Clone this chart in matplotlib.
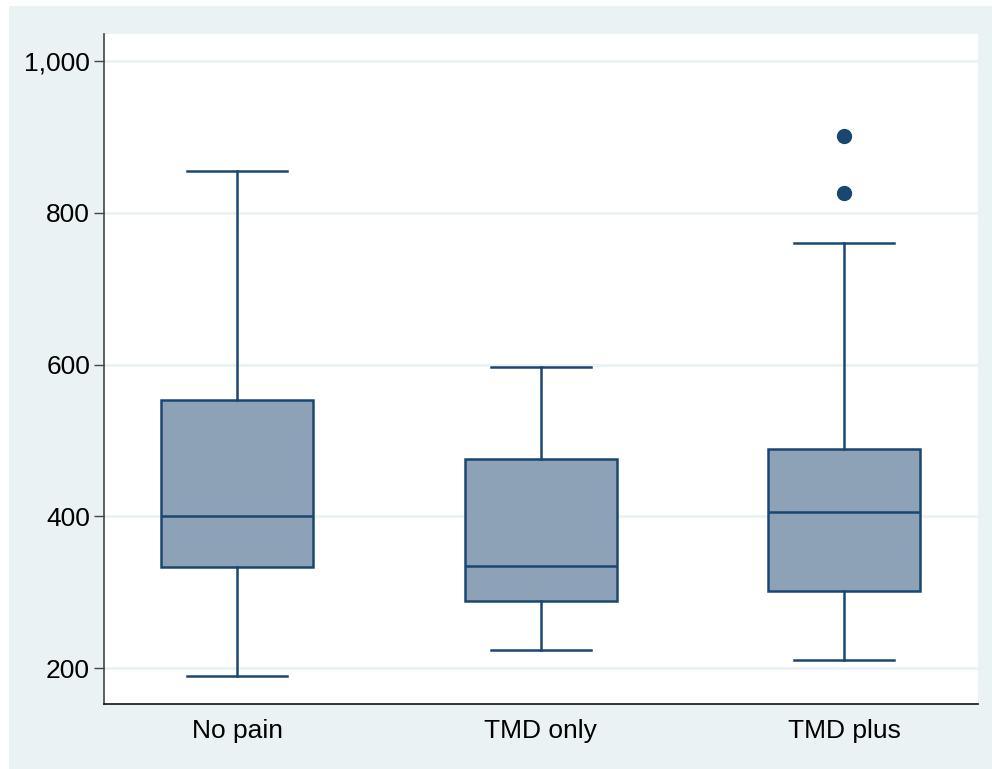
import matplotlib.pyplot as plt
from matplotlib.patches import Rectangle

plt.rcParams['font.family'] = ['Liberation Sans', 'DejaVu Sans']

groups = ["No pain", "TMD only", "TMD plus"]
whislo = [189, 224, 210]
q1 = [333, 288, 301]
med = [400, 335, 405]
q3 = [553, 476, 489]
whishi = [855, 597, 760]
fliers = [[], [], [826, 901]]
yticks = [200, 400, 600, 800, 1000]

navy = "#1A476F"
bg = "#EAF2F3"

stats = []
for i, g in enumerate(groups):
    stats.append(dict(label=g, whislo=whislo[i], q1=q1[i], med=med[i],
                      q3=q3[i], whishi=whishi[i], fliers=fliers[i]))

fig = plt.figure(figsize=(9.92, 7.69), dpi=100, facecolor=bg)
# white margin strips at top and left
fig.patches.append(Rectangle((0, 1 - 6 / 769), 1, 6 / 769, transform=fig.transFigure,
                             facecolor="white", edgecolor="none", zorder=-1))
fig.patches.append(Rectangle((0, 0), 9 / 992, 1, transform=fig.transFigure,
                             facecolor="white", edgecolor="none", zorder=-1))

ax = fig.add_axes([104 / 992, 1 - 704 / 769, (978 - 104) / 992, (704 - 34) / 769])
ax.set_facecolor("white")

lw = 1.8
ax.bxp(stats, positions=[1, 2, 3], widths=0.5, capwidths=0.33, patch_artist=True,
       boxprops=dict(facecolor="#8EA2B7", edgecolor=navy, linewidth=lw),
       medianprops=dict(color=navy, linewidth=lw),
       whiskerprops=dict(color=navy, linewidth=lw),
       capprops=dict(color=navy, linewidth=lw),
       flierprops=dict(marker="o", markerfacecolor=navy, markeredgecolor=navy,
                       markersize=10, linestyle="none"),
       zorder=3)

ax.set_xlim(0.562, 3.44)
ax.set_ylim(152.6, 1035.6)
ax.set_yticks(yticks)
ax.set_yticklabels([f"{v:,}" for v in yticks])
ax.yaxis.grid(True, color=bg, linewidth=2, zorder=0)
ax.set_axisbelow(True)

for s in ["top", "right"]:
    ax.spines[s].set_visible(False)
ax.spines["left"].set_color("#444444")
ax.spines["bottom"].set_color("#111111")
ax.spines["left"].set_linewidth(1.2)
ax.spines["bottom"].set_linewidth(1.2)

ax.tick_params(axis="y", length=7, width=1, color="#444444", labelsize=19, pad=3, direction="out")
ax.tick_params(axis="x", length=0, labelsize=19, pad=11)

fig.savefig("out.png", dpi=100, facecolor=bg)
